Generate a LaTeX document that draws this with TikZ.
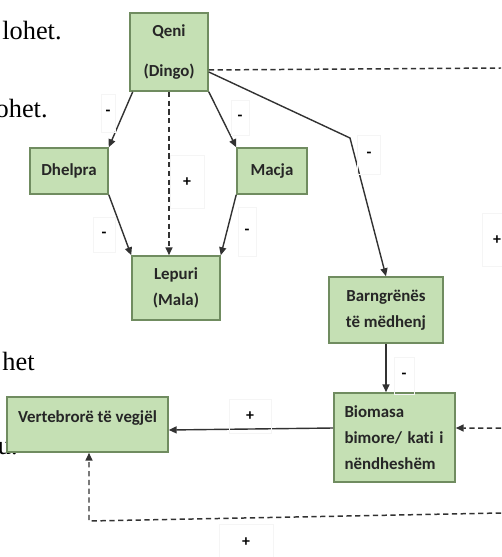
\documentclass[tikz,border=0pt]{standalone}
\usepackage{fontspec}
\setmainfont{Liberation Serif}
\newfontfamily\boxfont[Ligatures=NoCommon]{Carlito}
\usetikzlibrary{arrows.meta,calc}
\definecolor{leaf}{RGB}{197,224,180}
\definecolor{leafline}{RGB}{112,140,96}
\definecolor{ink}{RGB}{50,50,50}

\begin{document}
\begin{tikzpicture}[
  x=0.02cm,y=-0.02cm,
  >={Triangle[length=4.5pt,width=4pt]},
  sp/.style={rectangle,draw=leafline,fill=leaf,line width=0.9pt,align=center,
             inner sep=2pt,text=black!85,
             font=\boxfont\bfseries\fontsize{9.6}{14.7}\selectfont},
  arr/.style={->,line width=0.8pt,ink},
  darr/.style={->,line width=0.85pt,ink,dash pattern=on 3pt off 2pt},
  dline/.style={line width=0.85pt,ink,dash pattern=on 3pt off 2pt},
  lbl/.style={rectangle,draw=black!4,line width=0.4pt,inner sep=0pt,
              font=\boxfont\bfseries\small},
  bg/.style={anchor=base east,inner sep=0pt,font=\fontsize{15}{18}\selectfont}
]
\useasboundingbox (0,0) rectangle (501,557);

%% ================= page text behind the figure =================
\node[bg] (t1) at (62,40)  {lohet.};
\node[bg] (t2) at (48,118) {ohet.};
\node[bg] (t3) at (35,370) {het};
\node[bg] (t4) at (18,454) {tu.};

%% ================= species =================
\node[sp,minimum width=1.56cm,minimum height=1.56cm] (qeni)    at (169,52)  {Qeni\\[3mm](Dingo)};
\node[sp,minimum width=1.56cm,minimum height=0.92cm] (dhelpra) at (69,171)  {Dhelpra};
\node[sp,minimum width=1.40cm,minimum height=0.92cm] (macja)   at (272,171) {Macja};
\node[sp,minimum width=1.76cm,minimum height=1.28cm] (lepuri)  at (176,288) {Lepuri\\(Mala)};
\node[sp,minimum width=2.28cm,minimum height=1.32cm] (barn)    at (386,310) {Barngrënës\\të mëdhenj};
\node[sp,align=left,text width=2.0cm,minimum width=2.42cm,minimum height=1.78cm]
      (bio) at (394.5,437.5) {Biomasa\\bimore/ kati i\\nëndheshëm};
\node[sp,text depth=0.3cm,minimum width=3.22cm,minimum height=1.1cm]
      (vert) at (87.5,424.5) {Vertebrorë të vegjël};

%% ================= links =================
\draw[arr]  ([xshift=2pt]qeni.south west) -- (dhelpra.north east);
\draw[arr]  (qeni.south east) -- (macja.north west);
\draw[darr] (qeni.south) -- (qeni.south |- lepuri.north);
\draw[arr]  (dhelpra.south east) -- (lepuri.north west);
\draw[arr]  (macja.south west) -- (lepuri.north east);

\coordinate (kink) at (350,138);
\coordinate (outA) at (501,68);
\draw[arr]   ([yshift=-0.4cm]qeni.east) -- (kink) -- (barn.north);
\draw[dline] ([yshift=-0.36cm]qeni.east) -- (outA);

\draw[arr] (barn.south) -- (barn.south |- bio.north);
\draw[arr] ([yshift=0.19cm]bio.west) -- ([yshift=-0.11cm]vert.east);

\coordinate (outB) at (501,428);
\coordinate (outC) at (501,513);
\coordinate (turn) at (89,521);
\draw[darr] (outB) -- ([yshift=0.19cm]bio.east);
\draw[darr] (outC) -- (turn) -- (turn |- vert.south);

%% ================= signs =================
\node[lbl,minimum width=0.28cm,minimum height=0.76cm] (s1)  at (108,113) {-};
\node[lbl,minimum width=0.36cm,minimum height=0.70cm] (s2)  at (240,118) {-};
\node[lbl,minimum width=0.68cm,minimum height=1.06cm] (s3)  at (187,182) {+};
\node[lbl,minimum width=0.44cm,minimum height=0.70cm] (s4)  at (104,235) {-};
\node[lbl,minimum width=0.36cm,minimum height=0.98cm] (s5)  at (247,232) {-};
\node[lbl,minimum width=0.46cm,minimum height=0.78cm] (s6)  at (369,155) {-};
\node[lbl,minimum width=0.60cm,minimum height=1.06cm] (s7)  at (497,240) {+};
\node[lbl,minimum width=0.40cm,minimum height=0.74cm] (s8)  at (404,376) {-};
\node[lbl,minimum width=0.84cm,minimum height=0.68cm] (s9)  at (250,416) {+};
\node[lbl,minimum width=1.08cm,minimum height=0.70cm] (s10) at (246,542) {+};

\end{tikzpicture}
\end{document}
